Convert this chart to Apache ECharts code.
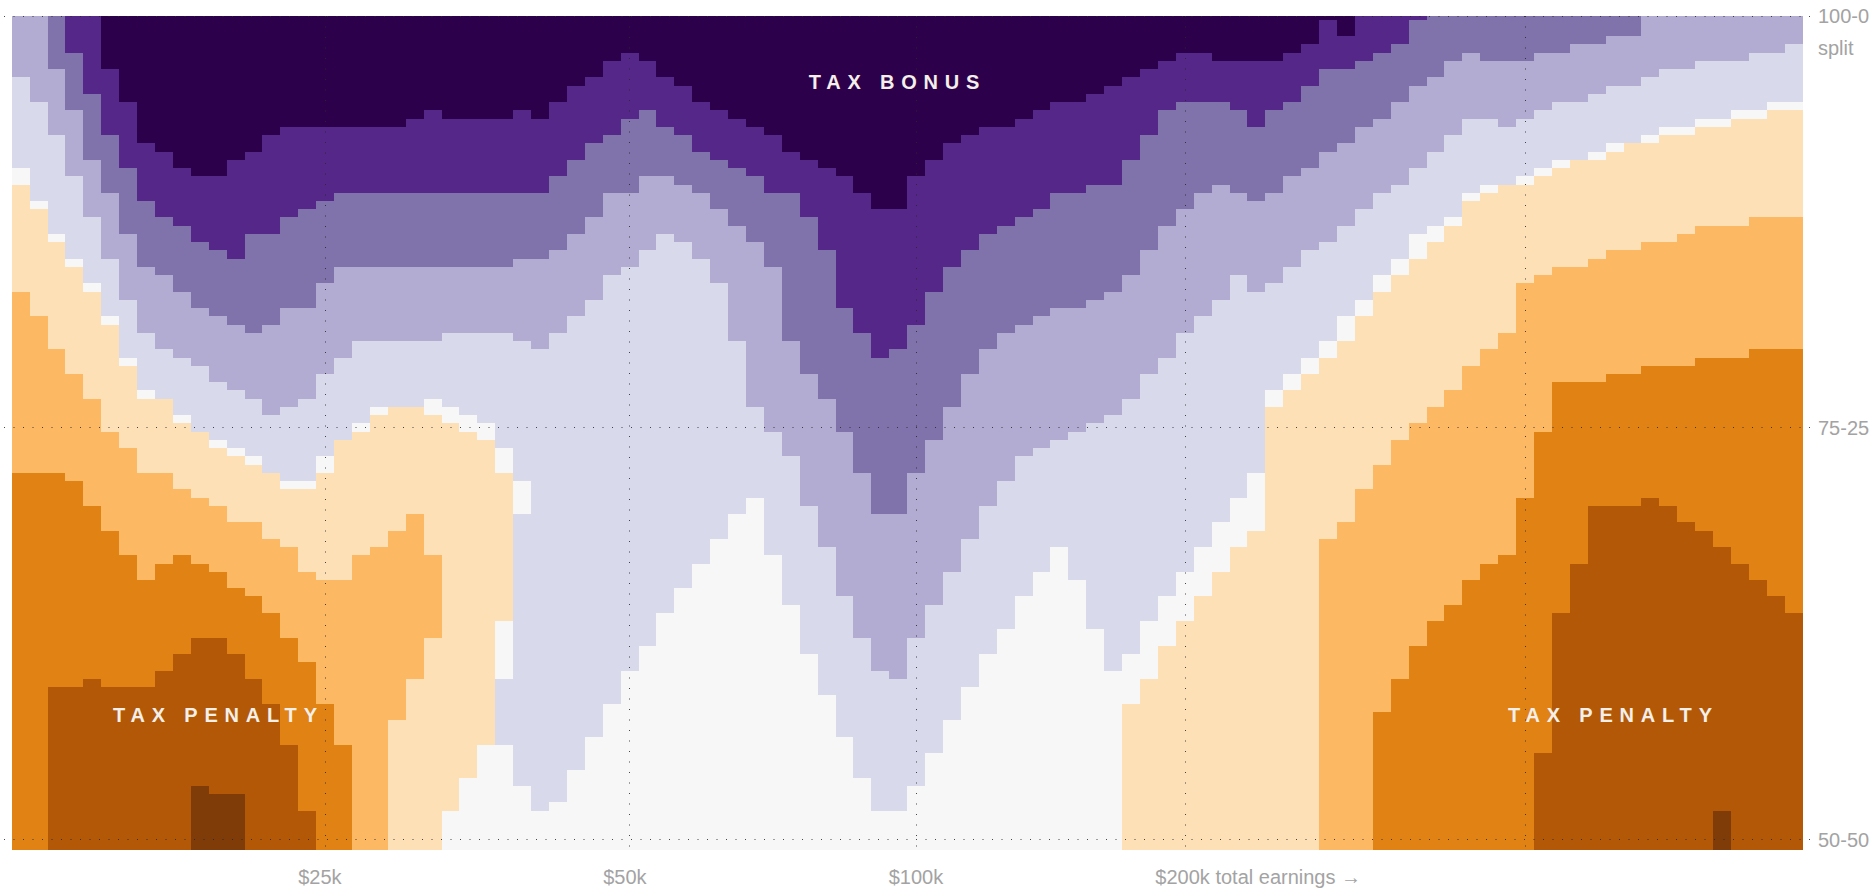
<!DOCTYPE html>
<html>
<head>
<meta charset="utf-8">
<title>Tax bonus and penalty</title>
<script src="https://cdn.jsdelivr.net/npm/echarts@6/dist/echarts.min.js"></script>
<style>
  html, body { margin: 0; background: #fff; }
  #chart { width: 1874px; height: 895px; }
</style>
</head>
<body>
<div id="chart"></div>
<script>
// PuOr colour classes, darkest purple to darkest brown
const palette = ['#2d004b', '#542788', '#8073ac', '#b2abd2', '#d8daeb', '#f7f7f7', '#fee0b6', '#fdb863', '#e08214', '#b35806', '#7f3b08']

// row where each colour class ends, one value per earnings column (100 columns)
const end0 = [0,0,0,0,0,7,11,16,17,19,20,20,18,17,15,14,14,14,14,14,14,14,13,12,13,13,13,13,12,13,11,9,8,6,5,6,8,9,11,12,13,14,15,17,18,19,20,22,24,24,20,18,16,15,14,14,13,12,11,11,10,9,8,7,6,5,5,6,6,6,6,5,4,1,3,0,0,0,0,0,0,0,0,0,0,0,0,0,0,0,0,0,0,0,0,0,0,0,0,0]
const end1 = [0,0,0,5,10,15,19,23,25,26,28,29,30,27,27,25,24,23,22,22,22,22,22,22,22,22,22,22,22,22,20,18,16,15,13,12,14,15,17,18,19,20,22,22,25,29,36,39,42,41,38,34,31,29,27,26,25,24,22,22,21,21,18,15,12,11,11,11,12,14,12,11,9,7,7,6,5,4,1,0,0,0,0,0,0,0,0,0,0,0,0,0,0,0,0,0,0,0,0,0]
const end2 = [0,0,7,12,18,22,27,31,32,34,36,37,38,39,38,36,36,33,31,31,31,31,31,31,31,31,31,31,30,30,29,27,25,22,22,20,20,21,22,24,26,28,31,40,44,47,51,56,61,61,56,52,48,44,41,39,38,37,36,36,35,34,32,29,26,24,22,21,22,23,22,20,19,17,16,14,13,11,9,8,6,5,6,6,6,5,5,4,4,3,3,0,0,0,0,0,0,0,0,0]
const end3 = [8,11,15,20,25,30,35,39,41,42,43,45,46,47,49,48,47,44,42,40,40,40,40,40,39,39,39,39,40,41,39,37,35,32,31,29,27,28,30,33,40,48,51,54,60,65,71,76,80,81,76,72,68,64,60,57,54,53,52,51,50,49,47,44,42,39,37,35,32,34,33,31,29,28,26,24,22,21,19,17,15,13,13,14,13,12,11,11,10,9,9,8,7,7,6,6,6,5,5,4]
const end4 = [19,23,27,30,33,37,42,46,47,49,51,52,53,54,56,57,57,54,52,50,48,48,48,47,48,49,50,53,57,97,96,92,88,84,80,77,73,70,67,64,61,59,66,72,78,83,88,93,97,97,94,90,86,82,78,75,71,68,65,69,75,80,78,74,71,68,65,62,59,56,46,44,42,40,37,35,32,30,27,26,25,22,21,21,20,19,18,18,17,16,16,15,14,14,13,13,12,12,11,11]
const end5 = [21,24,28,31,34,38,43,47,47,50,51,53,54,55,56,58,58,56,52,51,49,48,48,49,50,51,52,56,61,102,102,102,102,102,102,102,102,102,102,102,102,102,102,102,102,102,102,102,102,102,102,102,102,102,102,102,102,102,102,102,102,102,84,81,77,74,71,68,65,63,48,46,44,42,40,37,34,32,30,28,26,23,22,21,21,20,19,18,18,17,16,16,15,15,14,14,13,13,12,12]
const end6 = [34,37,41,44,47,51,53,56,56,58,59,60,62,62,64,65,68,69,69,66,65,63,61,66,102,102,102,102,102,102,102,102,102,102,102,102,102,102,102,102,102,102,102,102,102,102,102,102,102,102,102,102,102,102,102,102,102,102,102,102,102,102,102,102,102,102,102,102,102,102,102,102,102,64,62,58,55,52,50,48,46,43,41,39,33,32,31,31,30,29,29,28,28,27,26,26,26,25,25,25]
const end7 = [56,56,56,57,60,63,66,69,67,66,67,68,70,71,73,76,79,84,89,102,102,102,102,102,102,102,102,102,102,102,102,102,102,102,102,102,102,102,102,102,102,102,102,102,102,102,102,102,102,102,102,102,102,102,102,102,102,102,102,102,102,102,102,102,102,102,102,102,102,102,102,102,102,102,102,102,85,81,77,74,72,69,67,66,59,51,45,45,45,44,44,43,43,43,42,42,42,41,41,41]
const end8 = [102,102,82,82,81,82,82,82,80,78,76,76,78,81,84,89,97,102,102,102,102,102,102,102,102,102,102,102,102,102,102,102,102,102,102,102,102,102,102,102,102,102,102,102,102,102,102,102,102,102,102,102,102,102,102,102,102,102,102,102,102,102,102,102,102,102,102,102,102,102,102,102,102,102,102,102,102,102,102,102,102,102,102,102,102,90,73,67,60,60,60,59,60,62,63,65,67,69,71,73]
const end9 = [102,102,102,102,102,102,102,102,102,102,94,95,95,102,102,102,102,102,102,102,102,102,102,102,102,102,102,102,102,102,102,102,102,102,102,102,102,102,102,102,102,102,102,102,102,102,102,102,102,102,102,102,102,102,102,102,102,102,102,102,102,102,102,102,102,102,102,102,102,102,102,102,102,102,102,102,102,102,102,102,102,102,102,102,102,102,102,102,102,102,102,102,102,102,102,97,102,102,102,102]

// where the colours turn back near $25k-$40k: [column, class, from row, to row]
const lowerRuns = [
  [21,6,86,102],[22,6,81,102],[23,6,76,102],[24,5,97,102],[25,5,93,102],[26,5,89,102],
  [27,5,74,81],[27,4,81,89],[27,5,89,102],[28,4,61,94],[28,5,94,102]
]

const gridColumns = [17.5, 34.5, 50.5, 65.5, 84.5]
const gridRows = [0.6, 50.5, 100.5]
const xLabels = ['$25k', '$50k', '$100k', '$200k total earnings →']
const xLabelAt = [17.21, 34.24, 50.49, 69.6]
const yLabels = ['100-0', 'split', '75-25', '50-50']
const yLabelAt = [0.6, 4.4, 50.5, 100.5]

const firstRow = 0.55
const lastRow = 101.76
const stack = [end0, end1, end2, end3, end4, end5, end6, end7, end8, end9]

const runs = []
for (let col = 0; col < end0.length; col++) {
  let from = firstRow
  stack.forEach((ends, level) => {
    const to = Math.min(ends[col], lastRow)
    if (to > from) {
      runs.push([col, from, to, level])
      from = to
    }
  })
  if (from < lastRow) runs.push([col, from, lastRow, 10])
}
lowerRuns.forEach(r => runs.push([r[0], r[2], Math.min(r[3], lastRow), r[1]]))

const dotted = { color: 'rgba(40,40,40,0.85)', width: 1, type: [1, 8.5], cap: 'butt' }
const labelFont = '"Liberation Sans Narrow", "Liberation Sans", sans-serif'
const tagFont = 'bold 20px "Liberation Sans Narrow", "Liberation Sans", sans-serif'

const chart = echarts.init(document.getElementById('chart'), null, { renderer: 'svg' })

chart.setOption({
  animation: false,
  backgroundColor: '#fff',
  grid: { left: 4, top: 16, width: 1806, height: 836.5 },
  xAxis: {
    type: 'value',
    min: -0.43,
    max: 100.41,
    axisLine: { show: false },
    axisTick: { show: false },
    splitLine: { show: false },
    axisLabel: {
      customValues: xLabelAt,
      formatter: v => xLabels[xLabelAt.indexOf(v)],
      color: '#a3a3a3',
      fontFamily: labelFont,
      fontSize: 20,
      margin: 14
    }
  },
  yAxis: {
    type: 'value',
    inverse: true,
    position: 'right',
    min: firstRow,
    max: 102.07,
    axisLine: { show: false },
    axisTick: { show: false },
    splitLine: { show: false },
    axisLabel: {
      customValues: yLabelAt,
      formatter: v => yLabels[yLabelAt.indexOf(v)],
      color: '#a3a3a3',
      fontFamily: labelFont,
      fontSize: 20,
      margin: 8
    }
  },
  series: [{
    type: 'custom',
    silent: true,
    data: runs,
    encode: { x: 0, y: 1 },
    renderItem: (params, api) => {
      const a = api.coord([api.value(0), api.value(1)])
      const b = api.coord([api.value(0) + 1, api.value(2)])
      const x = Math.round(a[0])
      const y = Math.round(a[1])
      return {
        type: 'rect',
        shape: { x, y, width: Math.round(b[0]) - x, height: Math.round(b[1]) - y },
        style: { fill: palette[api.value(3)] }
      }
    },
    markLine: {
      silent: true,
      symbol: 'none',
      label: { show: false },
      lineStyle: dotted,
      data: gridColumns.map(v => ({ xAxis: v, lineStyle: { type: [1, 9.5] } })).concat(gridRows.map(v => ({ yAxis: v })))
    }
  }],
  graphic: [
    { type: 'text', x: 897.4, y: 82, z: 100, style: { text: 'TAX BONUS', fill: '#f4efe9', font: tagFont, textAlign: 'center', textVerticalAlign: 'middle' } },
    { type: 'text', x: 218.4, y: 715, z: 100, style: { text: 'TAX PENALTY', fill: '#f4efe9', font: tagFont, textAlign: 'center', textVerticalAlign: 'middle' } },
    { type: 'text', x: 1613.4, y: 715, z: 100, style: { text: 'TAX PENALTY', fill: '#f4efe9', font: tagFont, textAlign: 'center', textVerticalAlign: 'middle' } }
  ]
})

// echarts has no letter spacing option, so set it on the svg text
const spaceTags = () => {
  chart.getDom().querySelectorAll('text').forEach(el => {
    if (el.textContent.startsWith('TAX')) el.style.letterSpacing = '6.8px'
  })
}
spaceTags()
chart.on('finished', spaceTags)
</script>
</body>
</html>
